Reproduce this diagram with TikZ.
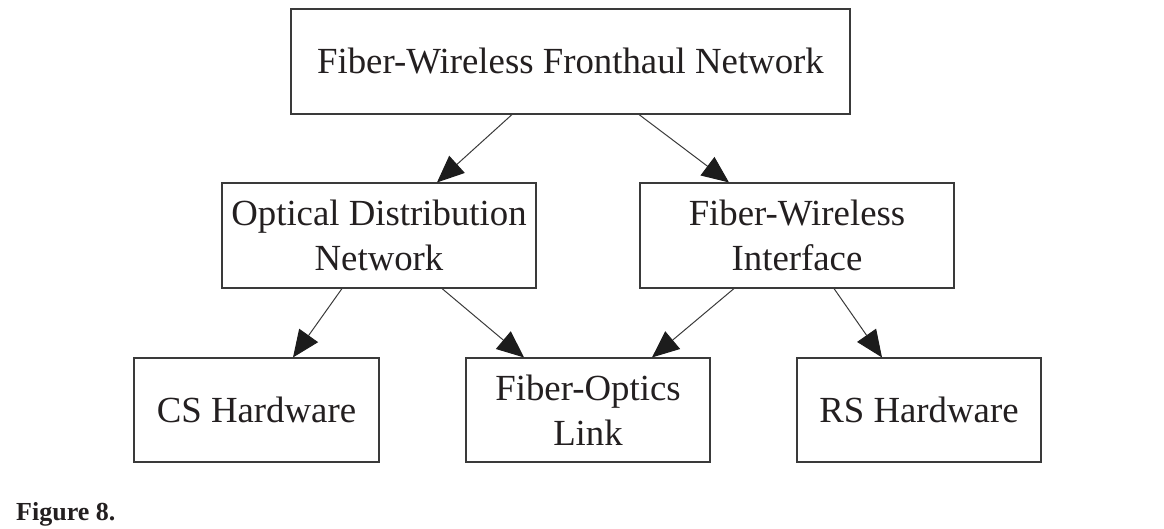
\documentclass[tikz,border=0pt]{standalone}
\usepackage{fontspec}
\setmainfont{Liberation Serif}
\usetikzlibrary{arrows.meta}
\definecolor{linegray}{HTML}{3A3A3A}
\definecolor{headdark}{HTML}{1C1C1C}
\definecolor{textdark}{HTML}{231F20}
\begin{document}
\begin{tikzpicture}[x=1pt,y=-1pt,
  box/.style={draw=linegray, line width=1.1pt, rectangle, align=center,
    text=textdark, inner sep=0pt,
    font=\fontsize{36.8}{45}\selectfont},
  link/.style={draw=linegray, line width=1pt,
    -{Triangle[length=27pt,width=23pt,color=headdark,fill=headdark]}}
]
\useasboundingbox (0,0) rectangle (1164,529);

\node[box, minimum width=559pt, minimum height=105pt] (top) at (570.5,61.5) {Fiber-Wireless Fronthaul Network};
\node[box, minimum width=314pt, minimum height=105pt] (odn) at (379,235.5) {Optical Distribution\\Network};
\node[box, minimum width=314pt, minimum height=105pt] (fwi) at (797,235.5) {Fiber-Wireless\\Interface};
\node[box, minimum width=245pt, minimum height=104pt] (cs) at (256.5,410) {CS Hardware};
\node[box, minimum width=244pt, minimum height=104pt] (fol) at (588,410) {Fiber-Optics\\Link};
\node[box, minimum width=244pt, minimum height=104pt] (rs) at (919,410) {RS Hardware};

\draw[link] ([xshift=-58.5pt]top.south) -- ([xshift=58pt]odn.north);
\draw[link] ([xshift=68.5pt]top.south) -- ([xshift=-68pt]fwi.north);
\draw[link] ([xshift=-37pt]odn.south) -- ([xshift=36.5pt]cs.north);
\draw[link] ([xshift=63pt]odn.south) -- ([xshift=-64pt]fol.north);
\draw[link] ([xshift=-63pt]fwi.south) -- ([xshift=64pt]fol.north);
\draw[link] ([xshift=37pt]fwi.south) -- ([xshift=-37pt]rs.north);

\node[anchor=base west, inner sep=0pt, text=textdark,
  font=\fontsize{26}{30}\selectfont\bfseries] (fig) at (16,520) {Figure 8.};
\end{tikzpicture}
\end{document}
